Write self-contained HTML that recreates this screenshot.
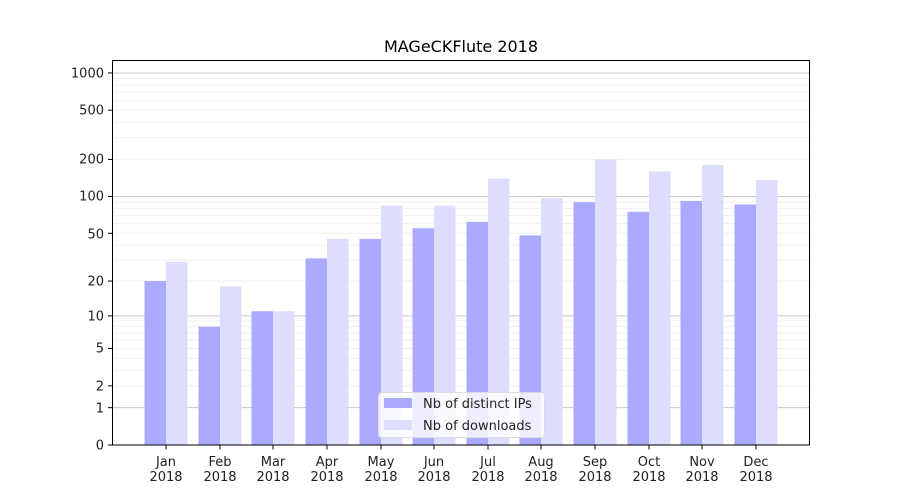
<!DOCTYPE html>
<html><head><meta charset="utf-8"><style>body{margin:0;background:#fff}svg{display:block;font-family:"DejaVu Sans","Liberation Sans",sans-serif}</style></head>
<body>
<svg width="900" height="500" xmlns="http://www.w3.org/2000/svg">
<rect width="900" height="500" fill="#fff"/>
<g id="grid" stroke-width="1"></g>
<g id="bars"></g>
<rect x="112.5" y="60.5" width="697" height="384.5" fill="none" stroke="#000" stroke-width="1"/>
<g id="ticks" stroke="#000"></g>
<g font-size="13" fill="#222" text-anchor="end">
<text x="104" y="449.5">0</text><text x="104" y="412.5">1</text><text x="104" y="390.5">2</text>
<text x="104" y="352.5">5</text><text x="104" y="320.5">10</text><text x="104" y="285.5">20</text>
<text x="104" y="238.5">50</text><text x="104" y="200.5">100</text><text x="104" y="163.5">200</text>
<text x="104" y="114.5">500</text><text x="104" y="77.5">1000</text>
</g>
<g font-size="13" fill="#222" text-anchor="middle">
<text x="166" y="466">Jan</text><text x="166" y="481">2018</text>
<text x="220" y="466">Feb</text><text x="220" y="481">2018</text>
<text x="273" y="466">Mar</text><text x="273" y="481">2018</text>
<text x="327" y="466">Apr</text><text x="327" y="481">2018</text>
<text x="381" y="466">May</text><text x="381" y="481">2018</text>
<text x="434" y="466">Jun</text><text x="434" y="481">2018</text>
<text x="488" y="466">Jul</text><text x="488" y="481">2018</text>
<text x="541" y="466">Aug</text><text x="541" y="481">2018</text>
<text x="595" y="466">Sep</text><text x="595" y="481">2018</text>
<text x="649" y="466">Oct</text><text x="649" y="481">2018</text>
<text x="702" y="466">Nov</text><text x="702" y="481">2018</text>
<text x="756" y="466">Dec</text><text x="756" y="481">2018</text>
</g>
<text x="461" y="52" font-size="16" text-anchor="middle" fill="#000">MAGeCKFlute 2018</text>
<rect x="378.5" y="392.5" width="166" height="45" rx="3" fill="#fff" fill-opacity="0.8" stroke="#ddd"/>
<rect x="384" y="398" width="28" height="10" fill="#aaaaff"/>
<rect x="384" y="420" width="28" height="10" fill="#ddddff"/>
<g font-size="13" fill="#222"><text x="423" y="408">Nb of distinct IPs</text><text x="423" y="430">Nb of downloads</text></g>
<script>
var ns="http://www.w3.org/2000/svg";
function Y(v){return 445-124*Math.log10(1+v);}
function el(p,t,a){var e=document.createElementNS(ns,t);for(var k in a)e.setAttribute(k,a[k]);p.appendChild(e);}
var g=document.getElementById('grid');
[1,10,100,1000].forEach(function(d){for(var m=1;m<10;m++){var v=d*m;if(v>1000)break;var y=Y(v);
el(g,'line',{x1:113,x2:809,y1:y,y2:y,stroke:m==1?'#c8c8c8':'#efefef'});}});
var t=document.getElementById('ticks');
[0,1,2,5,10,20,50,100,200,500,1000].forEach(function(v){var y=Y(v);el(t,'line',{x1:108,x2:112.5,y1:y,y2:y});});
[166,220,273,327,381,434,488,541,595,649,702,756].forEach(function(c){el(t,'line',{x1:c,x2:c,y1:445,y2:449.5});});
var b=document.getElementById('bars');
var C=[166,220,273,327,381,434,488,541,595,649,702,756];
var ip=[20,8,11,31,45,55,62,48,90,75,92,86];
var dl=[29,18,11,45,84,84,140,97,200,160,180,136];
C.forEach(function(c,i){var y1=Y(ip[i]),y2=Y(dl[i]);
el(b,'rect',{x:c-21.5,y:y1,width:21.5,height:445-y1,fill:'#aaaaff'});
el(b,'rect',{x:c,y:y2,width:21.5,height:445-y2,fill:'#ddddff'});});
</script>
</svg>
</body></html>
